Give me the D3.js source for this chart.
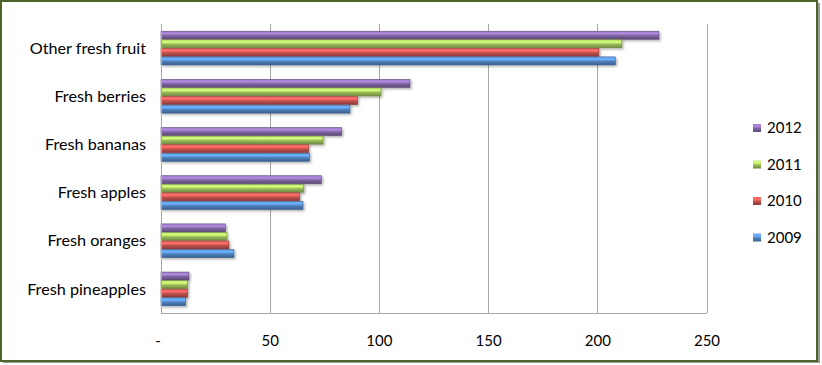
<!DOCTYPE html>
<html><head><meta charset="utf-8">
<script src="https://cdn.jsdelivr.net/npm/d3@7"></script>
<style>html,body{margin:0;padding:0;background:#fff;}svg{display:block;}</style>
</head><body>
<svg id="chart" width="822" height="365"></svg>
<script>
const categories = ["Other fresh fruit","Fresh berries","Fresh bananas","Fresh apples","Fresh oranges","Fresh pineapples"];
const seriesNames = ["2012","2011","2010","2009"];
const values2012 = [228, 114, 82.7, 73.4, 29.5, 12.8];
const values2011 = [211, 100.7, 74.2, 65.3, 30.2, 12.2];
const values2010 = [200.5, 90, 67.6, 63.5, 31.1, 12.2];
const values2009 = [208, 86.5, 68, 65, 33.4, 11.3];
const tickValues = [0, 50, 100, 150, 200, 250];
const tickLabels = ["-", "50", "100", "150", "200", "250"];
const colors = ["#8064a2", "#9bbb59", "#c0504d", "#4f81bd"];

const seriesValues = [values2012, values2011, values2010, values2009];
const svg = d3.select("#chart");
const font = "Lato, 'Open Sans', sans-serif";

// outer frame
svg.append("rect").attr("x", 3).attr("y", 3).attr("width", 817).attr("height", 360).attr("fill", "#999");
svg.append("rect").attr("x", 1).attr("y", 1).attr("width", 816).attr("height", 360)
  .attr("fill", "#fff").attr("stroke", "#4f6228").attr("stroke-width", 2);

const defs = svg.append("defs");
colors.forEach((c, i) => {
  const g = defs.append("linearGradient").attr("id", "g" + i).attr("x1", 0).attr("y1", 0).attr("x2", 0).attr("y2", 1);
  const base = d3.color(c);
  g.append("stop").attr("offset", "0%").attr("stop-color", d3.color(c).brighter(0.6));
  g.append("stop").attr("offset", "30%").attr("stop-color", d3.color(c).brighter(0.9));
  g.append("stop").attr("offset", "55%").attr("stop-color", base);
  g.append("stop").attr("offset", "100%").attr("stop-color", d3.color(c).darker(0.9));
});
const filt = defs.append("filter").attr("id", "sh").attr("x", "-5%").attr("y", "-30%").attr("width", "115%").attr("height", "180%");
filt.append("feDropShadow").attr("dx", 1.5).attr("dy", 1.5).attr("stdDeviation", 1).attr("flood-color", "#000").attr("flood-opacity", 0.3);

const x = d3.scaleLinear().domain([0, 250]).range([161, 707]);
const y0 = d3.scaleBand().domain(categories).range([24, 313]).paddingInner(0.3).paddingOuter(0.15);
const y1 = d3.scaleBand().domain(seriesNames).range([0, y0.bandwidth()]).paddingInner(0.06);

// gridlines
svg.append("g").selectAll("line").data(tickValues.slice(1)).join("line")
  .attr("x1", d => x(d)).attr("x2", d => x(d)).attr("y1", 24).attr("y2", 313)
  .attr("stroke", "#a6a6a6").attr("stroke-width", 1).attr("shape-rendering", "crispEdges");

// bars
const groups = svg.append("g").selectAll("g").data(categories).join("g")
  .attr("transform", d => `translate(0,${y0(d)})`);
groups.selectAll("rect").data((cat, ci) => seriesNames.map((s, si) => ({s, si, v: seriesValues[si][ci]})))
  .join("rect")
  .attr("x", x(0)).attr("y", d => y1(d.s))
  .attr("width", d => x(d.v) - x(0)).attr("height", y1.bandwidth())
  .attr("fill", d => `url(#g${d.si})`)
  .attr("stroke", d => d3.color(colors[d.si]).darker(0.8)).attr("stroke-width", 0.6)
  .attr("filter", "url(#sh)");

// axes lines
svg.append("line").attr("x1", 161).attr("x2", 161).attr("y1", 24).attr("y2", 313)
  .attr("stroke", "#a6a6a6").attr("shape-rendering", "crispEdges");
svg.append("line").attr("x1", 161).attr("x2", 707).attr("y1", 313).attr("y2", 313)
  .attr("stroke", "#a6a6a6").attr("shape-rendering", "crispEdges");

// x tick labels
svg.append("g").selectAll("text").data(tickValues).join("text")
  .attr("x", (d, i) => i === 0 ? x(d) - 3 : x(d)).attr("y", 346)
  .attr("text-anchor", "middle").attr("font-family", font).attr("font-size", 15).attr("fill", "#000")
  .text((d, i) => tickLabels[i]);

// category labels
svg.append("g").selectAll("text").data(categories).join("text")
  .attr("x", 146).attr("y", d => y0(d) + y0.bandwidth() / 2)
  .attr("dy", "0.35em").attr("text-anchor", "end")
  .attr("font-family", font).attr("font-size", 16.2).attr("fill", "#000")
  .text(d => d);

// legend
const leg = svg.append("g").selectAll("g").data(seriesNames).join("g")
  .attr("transform", (d, i) => `translate(753,${128 + i * 36.5})`);
leg.append("rect").attr("x", 0).attr("y", -4).attr("width", 8).attr("height", 8)
  .attr("fill", (d, i) => `url(#g${i})`);
leg.append("text").attr("x", 14).attr("y", 0).attr("dy", "0.35em")
  .attr("font-family", font).attr("font-size", 15).attr("fill", "#000").text(d => d);
</script>
</body></html>
